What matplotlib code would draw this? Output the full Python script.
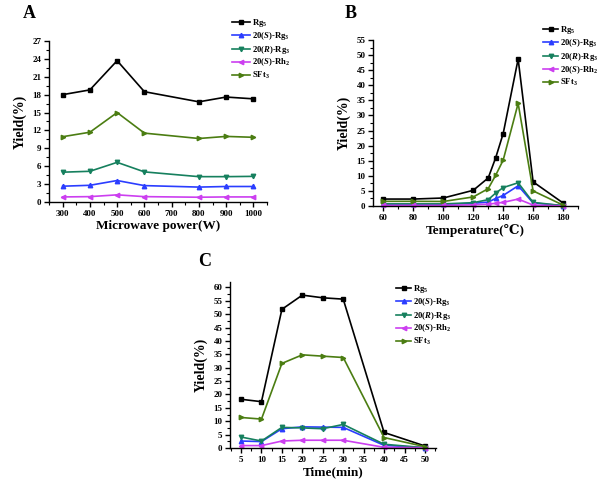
import matplotlib
matplotlib.use("Agg")
import matplotlib.pyplot as plt
from matplotlib.ticker import MultipleLocator

plt.rcParams['font.family'] = ['Liberation Serif', 'DejaVu Serif', 'DejaVu Sans']
plt.rcParams['font.weight'] = 'bold'
plt.rcParams['mathtext.fontset'] = 'custom'
plt.rcParams['mathtext.rm'] = 'Liberation Serif:bold'
plt.rcParams['mathtext.it'] = 'Liberation Serif:italic:bold'
plt.rcParams['mathtext.bf'] = 'Liberation Serif:bold'

series_names = [r'Rg$_{\mathrm{5}}$', r'20($\mathit{S}$)-Rg$_{\mathrm{3}}$',
                r'20($\mathit{R}$)-Rg$_{\mathrm{3}}$', r'20($\mathit{S}$)-Rh$_{\mathrm{2}}$',
                r'SFt$_{\mathrm{3}}$']
colors = ['#000000', '#2b3dff', '#16805e', '#cc3ff0', '#4b7d12']
markers = ['s', '^', 'v', '<', '>']

# Panel A: microwave power
power = [300, 400, 500, 600, 800, 900, 1000]
a_rg5 = [18.0, 18.8, 23.7, 18.5, 16.8, 17.6, 17.3]
a_srg3 = [2.65, 2.8, 3.6, 2.75, 2.5, 2.6, 2.6]
a_rrg3 = [5.0, 5.15, 6.65, 5.05, 4.25, 4.25, 4.3]
a_srh2 = [0.85, 0.9, 1.2, 0.9, 0.8, 0.85, 0.85]
a_sft3 = [10.95, 11.7, 15.0, 11.55, 10.65, 11.0, 10.85]

# Panel B: temperature
temp = [60, 80, 100, 120, 130, 135, 140, 150, 160, 180]
b_rg5 = [2.3, 2.3, 2.65, 5.2, 9.3, 16.0, 24.0, 48.7, 8.0, 1.0]
b_srg3 = [0.5, 0.5, 0.5, 0.9, 1.3, 2.5, 3.5, 6.7, 1.0, 0.1]
b_rrg3 = [0.7, 0.7, 0.7, 1.1, 2.1, 4.3, 6.1, 7.7, 1.2, 0.1]
b_srh2 = [0.2, 0.2, 0.2, 0.4, 0.6, 0.9, 1.2, 2.3, 0.3, 0.05]
b_sft3 = [1.55, 1.55, 1.5, 3.0, 5.75, 10.2, 15.2, 34.0, 5.0, 0.3]

# Panel C: time
time_min = [5, 10, 15, 20, 25, 30, 40, 50]
c_rg5 = [18.2, 17.3, 51.8, 57.1, 56.1, 55.6, 5.8, 0.75]
c_srg3 = [2.6, 2.4, 7.2, 7.9, 7.8, 7.7, 1.0, 0.1]
c_rrg3 = [4.1, 2.6, 7.7, 7.5, 7.2, 8.8, 1.4, 0.1]
c_srh2 = [0.9, 0.9, 2.6, 2.9, 2.9, 2.9, 0.25, 0.1]
c_sft3 = [11.4, 10.8, 31.6, 34.8, 34.3, 33.8, 3.9, 0.5]

W, H = 614, 486
fig = plt.figure(figsize=(W / 100, H / 100), dpi=100)


def box(l, r, t, b):
    return [l / W, 1 - b / H, (r - l) / W, (b - t) / H]


def style(ax, xmaj, xmin, ymaj, ymin):
    for s in ['top', 'right']:
        ax.spines[s].set_visible(False)
    for s in ['left', 'bottom']:
        ax.spines[s].set_linewidth(1.0)
    ax.xaxis.set_major_locator(MultipleLocator(xmaj))
    ax.xaxis.set_minor_locator(MultipleLocator(xmin))
    ax.yaxis.set_major_locator(MultipleLocator(ymaj))
    ax.yaxis.set_minor_locator(MultipleLocator(ymin))
    ax.tick_params(which='major', direction='out', length=3.5, width=1.0,
                   labelsize=6.5, pad=2)
    ax.tick_params(which='minor', direction='out', length=2, width=0.8)
    for lab in ax.get_xticklabels() + ax.get_yticklabels():
        lab.set_fontweight('bold')


def draw(ax, x, ys):
    for y, c, m, n in zip(ys, colors, markers, series_names):
        ax.plot(x, y, color=c, marker=m, markersize=3.2, lw=1.2, label=n,
                clip_on=False)


def legend(ax, x, y, hl):
    ax.legend(loc='upper left', bbox_to_anchor=(x / W, 1 - y / H),
              bbox_transform=fig.transFigure, frameon=False, fontsize=6.2,
              handlelength=hl, handletextpad=0.25, labelspacing=0.15,
              borderpad=0, borderaxespad=0)


# A
axA = fig.add_axes(box(49, 267, 41, 202))
draw(axA, power, [a_rg5, a_srg3, a_rrg3, a_srh2, a_sft3])
axA.set_xlim(250, 1050)
axA.set_ylim(0, 27)
style(axA, 100, 50, 3, 1.5)
axA.set_xlabel('Microwave power(W)', fontsize=9.5, fontweight='bold', labelpad=2)
axA.set_ylabel('Yield(%)', fontsize=10, fontweight='bold', labelpad=4)
legend(axA, 232, 17, 2.1)
fig.text(23 / W, 1 - 13 / H, 'A', fontsize=13, fontweight='bold', va='center')

# B
axB = fig.add_axes(box(373, 578, 40, 206))
draw(axB, temp, [b_rg5, b_srg3, b_rrg3, b_srh2, b_sft3])
axB.set_xlim(53, 190)
axB.set_ylim(0, 55)
style(axB, 20, 10, 5, 2.5)
axB.set_xlabel('Temperature(℃)', fontsize=9.5, fontweight='bold', labelpad=2)
axB.set_ylabel('Yield(%)', fontsize=10, fontweight='bold', labelpad=4)
legend(axB, 543, 24, 1.75)
fig.text(345 / W, 1 - 13 / H, 'B', fontsize=13, fontweight='bold', va='center')

# C
axC = fig.add_axes(box(230, 436, 282, 448))
draw(axC, time_min, [c_rg5, c_srg3, c_rrg3, c_srh2, c_sft3])
axC.set_xlim(2.3, 52.7)
axC.set_ylim(0, 62)
style(axC, 5, 2.5, 5, 2.5)
axC.set_yticks(range(0, 61, 5))
axC.set_xlabel('Time(min)', fontsize=9.5, fontweight='bold', labelpad=2)
axC.set_ylabel('Yield(%)', fontsize=10, fontweight='bold', labelpad=4)
legend(axC, 396, 283, 1.75)
fig.text(198 / W, 1 - 262 / H, 'C', fontsize=13, fontweight='bold', va='center')

fig.savefig('out.png', dpi=100)
